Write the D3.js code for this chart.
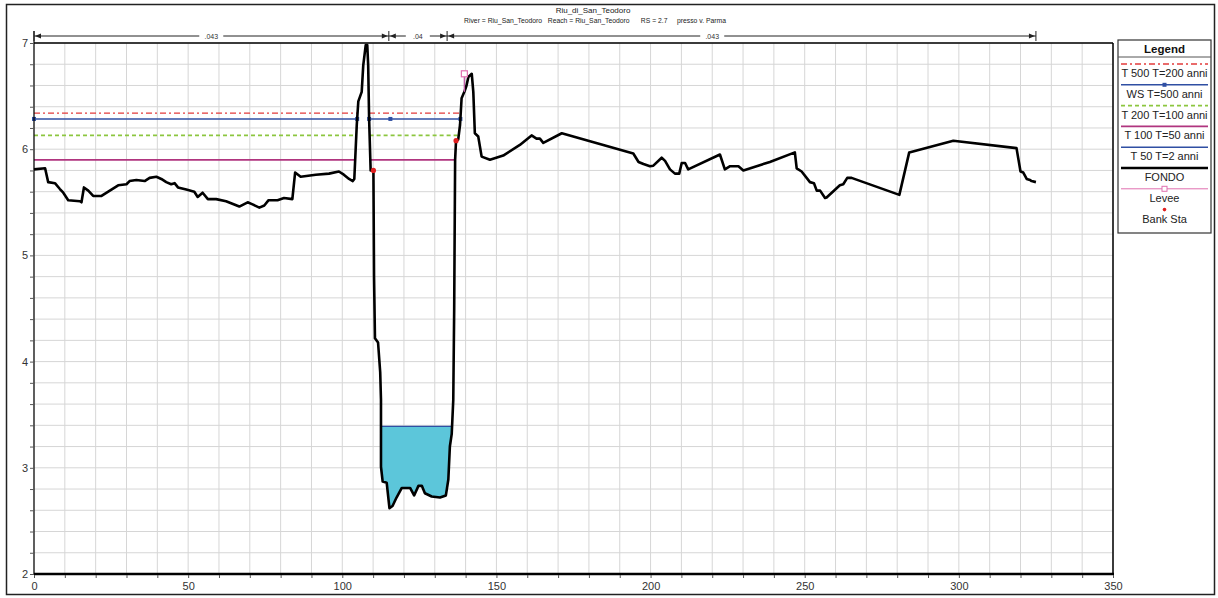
<!DOCTYPE html>
<html>
<head>
<meta charset="utf-8">
<script src="https://cdn.jsdelivr.net/npm/d3@7"></script>
<style>
  html, body { margin: 0; padding: 0; background: #fff; }
  svg { display: block; font-family: "Liberation Sans", Arial, sans-serif; }
</style>
</head>
<body>
<svg id="chart" width="1218" height="598"></svg>
<script>
// Cross-section profile: station (m) and bed elevation (m)
const groundStation = [
  0, 3.6, 4.6, 6.8, 8.4, 9.5, 11.1, 14.9, 15.4, 16.2, 17.6, 19.2, 21.9, 24.6, 27.3, 30.0,
  31.0, 33.2, 35.9, 37.5, 39.7, 41.3, 42.9, 44.5, 45.6, 46.7, 49.4, 52.0, 53.1, 54.7, 56.4,
  59.1, 62.3, 66.6, 69.3, 70.9, 73.1, 74.7, 76.1, 79.0, 81.1, 83.8, 84.7, 86.5, 91.4, 95.7,
  98.9, 100.5, 102.2, 103.4, 103.9, 104.7, 105.2, 106.3, 106.8, 107.6, 108.1, 108.4, 108.7,
  109.2, 110.1, 110.3, 110.6, 111.6, 112.3, 112.55, 112.55, 113.1, 114.4, 115.3, 116.3,
  117.6, 119.3, 122.0, 123.3, 124.7, 125.8, 126.8, 129.0, 131.7, 133.6, 134.4, 134.9, 135.5,
  136.0, 136.3, 136.6, 136.9, 137.6, 138.2, 138.7, 139.6, 140.3, 140.9, 142.0, 142.5, 143.0,
  144.1, 145.2, 147.9, 152.2, 157.6, 161.4, 163.0, 164.1, 165.2, 171.2, 194.4, 196.1, 197.7,
  199.8, 200.9, 203.6, 204.7, 206.3, 207.9, 209.3, 210.1, 211.2, 212.2, 222.5, 224.1, 225.8,
  228.5, 230.1, 238.7, 246.8, 247.4, 249.0, 251.7, 253.0, 253.9, 255.0, 256.6, 257.1, 261.4,
  262.5, 263.8, 265.2, 280.7, 283.9, 298.2, 318.7, 320.0, 320.9, 322.0, 323.1, 323.6, 325.0
];
const groundElev = [
  5.81, 5.82, 5.69, 5.68, 5.625, 5.59, 5.52, 5.51, 5.50, 5.64, 5.61, 5.56, 5.56, 5.61, 5.66, 5.67,
  5.70, 5.71, 5.70, 5.73, 5.74, 5.72, 5.69, 5.67, 5.68, 5.64, 5.62, 5.60, 5.55, 5.59, 5.53,
  5.53, 5.51, 5.46, 5.50, 5.48, 5.45, 5.47, 5.52, 5.52, 5.54, 5.53, 5.78, 5.74, 5.76, 5.77,
  5.79, 5.76, 5.72, 5.70, 5.72, 6.23, 6.45, 6.54, 6.79, 6.98, 6.98, 6.79, 6.29,
  5.80, 5.80, 4.80, 4.22, 4.18, 3.90, 3.64, 3.01, 2.87, 2.86, 2.62, 2.64,
  2.72, 2.81, 2.81, 2.74, 2.83, 2.83, 2.76, 2.73, 2.72, 2.74, 2.89, 3.20, 3.32,
  3.64, 4.50, 5.90, 6.08, 6.09, 6.23, 6.48, 6.54, 6.60, 6.68, 6.71, 6.54, 6.15,
  6.12, 5.93, 5.90, 5.94, 6.04, 6.13, 6.10, 6.10, 6.06, 6.15, 5.96, 5.88, 5.86,
  5.84, 5.845, 5.92, 5.89, 5.81, 5.77, 5.77, 5.87, 5.87, 5.81, 5.95, 5.81, 5.84,
  5.84, 5.80, 5.88, 5.97, 5.82, 5.79, 5.69, 5.68, 5.61, 5.61, 5.54, 5.545, 5.66,
  5.67, 5.73, 5.73, 5.57, 5.97, 6.08, 6.01, 5.79, 5.78, 5.72, 5.71, 5.70, 5.69
];

// Water surface profiles (elevation, m)
const profileNames = ["T 500 T=200 anni", "WS T=500 anni", "T 200 T=100 anni", "T 100 T=50 anni", "T 50 T=2 anni"];
const profileElev = [6.34, 6.285, 6.13, 5.90, 3.39];
const wsExtraMarkerStation = [115.6];

// Bank stations and levee
const bankStation = [110.1, 136.9];
const bankElev = [5.80, 6.08];
const leveeStation = [139.6];
const leveeElev = [6.71];

// Manning's n regions
const nBreakStation = [0, 115.1, 134.0, 325.0];
const nValues = [".043", ".04", ".043"];
const nLabelStation = [57.5, 124.5, 220];

// Axes
const xTicks = [0, 50, 100, 150, 200, 250, 300, 350];
const yTicks = [2, 3, 4, 5, 6, 7];

const titleText = "Riu_di_San_Teodoro";
const subtitleText = "River = Riu_San_Teodoro   Reach = Riu_San_Teodoro      RS = 2.7     presso v. Parma";

const svg = d3.select("#chart");
const W = 1218, H = 598;
const plot = { left: 34, right: 1113, top: 43, bottom: 574 };

const x = d3.scaleLinear().domain([0, 350]).range([plot.left, plot.right]);
const y = d3.scaleLinear().domain([2, 7]).range([plot.bottom, plot.top]);

// Outer frame
svg.append("rect").attr("x", 6.5).attr("y", 4.5).attr("width", W - 10).attr("height", H - 8)
  .attr("fill", "none").attr("stroke", "#222").attr("stroke-width", 1.5);

// Grid
const gridX = d3.range(0, 351, 10);
const gridY = d3.range(2, 7.001, 0.2);
svg.append("g").selectAll("line").data(gridX).join("line")
  .attr("x1", d => x(d)).attr("x2", d => x(d))
  .attr("y1", plot.top).attr("y2", plot.bottom)
  .attr("stroke", "#d6d6d6").attr("stroke-width", 1);
svg.append("g").selectAll("line").data(gridY).join("line")
  .attr("x1", plot.left).attr("x2", plot.right)
  .attr("y1", d => y(d)).attr("y2", d => y(d))
  .attr("stroke", "#d6d6d6").attr("stroke-width", 1);

// Profile helpers
const ground = groundStation.map((s, i) => [s, groundElev[i]]);
const groundAt = s => {
  for (let i = 1; i < ground.length; i++) {
    const [s0, z0] = ground[i - 1], [s1, z1] = ground[i];
    if (s >= s0 && s <= s1) return s1 === s0 ? z1 : z0 + (z1 - z0) * (s - s0) / (s1 - s0);
  }
  return ground[ground.length - 1][1];
};

// Wetted segments of a level within the levee-bounded section
function wetSegments(level, xmax) {
  const segs = [];
  let cur = null;
  for (let i = 0; i < ground.length; i++) {
    const [s, z] = ground[i];
    if (s > xmax) break;
    if (z < level) {
      if (!cur) {
        if (i === 0) cur = { start: s, pts: [] };
        else {
          const [s0, z0] = ground[i - 1];
          const t = (level - z0) / (z - z0);
          cur = { start: s0 + t * (s - s0), pts: [] };
        }
      }
      cur.pts.push([s, z]);
    } else if (cur) {
      const [s0, z0] = ground[i - 1];
      const t = (level - z0) / (z - z0);
      cur.end = s0 + t * (s - s0);
      segs.push(cur);
      cur = null;
    }
  }
  if (cur) { cur.end = cur.pts[cur.pts.length - 1][0]; segs.push(cur); }
  return segs;
}

const line = d3.line().x(d => x(d[0])).y(d => y(d[1]));

// Lowest profile: filled water body
const fillLevel = profileElev[4];
wetSegments(fillLevel, leveeStation[0]).forEach(seg => {
  const poly = [[seg.start, fillLevel], ...seg.pts, [seg.end, fillLevel]];
  svg.append("path").attr("d", line(poly) + "Z").attr("fill", "#5cc6da").attr("stroke", "none");
});

const profileStyle = [
  { color: "#e23b3b", width: 1.4, dash: "6,3,2,3" },
  { color: "#2f4fa3", width: 1.4, dash: null },
  { color: "#8cc63f", width: 1.6, dash: "4,3" },
  { color: "#b0357f", width: 1.8, dash: null },
  { color: "#2f4fa3", width: 1.4, dash: null }
];

profileElev.forEach((lev, k) => {
  const st = profileStyle[k];
  const segs = wetSegments(lev, leveeStation[0]);
  segs.forEach(seg => {
    svg.append("line")
      .attr("x1", x(seg.start)).attr("x2", x(seg.end))
      .attr("y1", y(lev)).attr("y2", y(lev))
      .attr("stroke", st.color).attr("stroke-width", st.width)
      .attr("stroke-dasharray", st.dash);
  });
  if (k === 1) {
    const marks = [];
    segs.forEach(seg => { marks.push(seg.start, seg.end); });
    wsExtraMarkerStation.forEach(s => marks.push(s));
    svg.append("g").selectAll("rect").data(marks).join("rect")
      .attr("x", d => x(d) - 2).attr("y", y(lev) - 2)
      .attr("width", 4).attr("height", 4).attr("fill", st.color);
  }
});

// Ground
svg.append("path").attr("d", line(ground))
  .attr("fill", "none").attr("stroke", "#000").attr("stroke-width", 2.6)
  .attr("stroke-linejoin", "round");

// Levee: stem from the bed up to the crest marker
leveeStation.forEach((s, i) => {
  svg.append("line").attr("x1", x(s)).attr("x2", x(s))
    .attr("y1", y(groundAt(s))).attr("y2", y(leveeElev[i]))
    .attr("stroke", "#c060a8").attr("stroke-width", 1.4);
});
svg.append("g").selectAll("rect").data(leveeStation).join("rect")
  .attr("x", d => x(d) - 3).attr("y", (d, i) => y(leveeElev[i]) - 3)
  .attr("width", 6).attr("height", 6)
  .attr("fill", "#fff").attr("stroke", "#e070b0").attr("stroke-width", 1.2);

// Bank stations
svg.append("g").selectAll("circle").data(bankStation).join("circle")
  .attr("cx", d => x(d)).attr("cy", (d, i) => y(bankElev[i])).attr("r", 2.6)
  .attr("fill", "#e02020");

// Plot border
svg.append("line").attr("x1", plot.left).attr("x2", plot.right).attr("y1", plot.top).attr("y2", plot.top)
  .attr("stroke", "#000").attr("stroke-width", 1.5);
svg.append("line").attr("x1", plot.right).attr("x2", plot.right).attr("y1", plot.top).attr("y2", plot.bottom)
  .attr("stroke", "#000").attr("stroke-width", 1.5);
svg.append("line").attr("x1", plot.left).attr("x2", plot.left).attr("y1", 31).attr("y2", plot.bottom)
  .attr("stroke", "#000").attr("stroke-width", 1.2);
svg.append("line").attr("x1", plot.left).attr("x2", plot.right + 1).attr("y1", plot.bottom).attr("y2", plot.bottom)
  .attr("stroke", "#000").attr("stroke-width", 2.6);

// Axes
const xAxis = d3.axisBottom(x).tickValues(d3.range(0, 351, 10)).tickSize(3)
  .tickFormat(d => xTicks.includes(d) ? d : "");
const gx = svg.append("g").attr("transform", `translate(0,${plot.bottom + 1})`).call(xAxis);
gx.select(".domain").remove();
gx.selectAll("line").attr("stroke", "#555");
gx.selectAll("text").attr("font-size", 11).attr("fill", "#333").attr("dy", "0.85em")
  .attr("font-family", "'Liberation Sans', Arial, sans-serif");

const yAxis = d3.axisLeft(y).tickValues(gridY).tickSize(4)
  .tickFormat(d => yTicks.some(t => Math.abs(t - d) < 1e-6) ? Math.round(d) : "");
const gy = svg.append("g").attr("transform", `translate(${plot.left},0)`).call(yAxis);
gy.select(".domain").remove();
gy.selectAll("line").attr("stroke", "#555");
gy.selectAll("text").attr("font-size", 11).attr("fill", "#333").attr("x", -6)
  .attr("font-family", "'Liberation Sans', Arial, sans-serif");

// Manning's n bar
const nY = 36;
svg.append("line").attr("x1", x(nBreakStation[0])).attr("x2", x(nBreakStation[nBreakStation.length - 1]))
  .attr("y1", nY).attr("y2", nY).attr("stroke", "#222").attr("stroke-width", 1);
nBreakStation.forEach(s => {
  svg.append("line").attr("x1", x(s)).attr("x2", x(s)).attr("y1", nY - 5).attr("y2", nY + 5)
    .attr("stroke", "#222").attr("stroke-width", 1);
});
for (let i = 0; i < nValues.length; i++) {
  const a = x(nBreakStation[i]), b = x(nBreakStation[i + 1]);
  svg.append("path").attr("d", `M${a + 1},${nY} l6,-2.5 l0,5 Z`).attr("fill", "#222");
  svg.append("path").attr("d", `M${b - 1},${nY} l-6,-2.5 l0,5 Z`).attr("fill", "#222");
  const lx = x(nLabelStation[i]);
  svg.append("rect").attr("x", lx - 12).attr("y", nY - 4).attr("width", 24).attr("height", 8).attr("fill", "#fff");
  svg.append("text").attr("x", lx).attr("y", nY + 2.5).attr("text-anchor", "middle")
    .attr("font-size", 7).attr("fill", "#333").text(nValues[i]);
}

// Titles
svg.append("text").attr("x", 593).attr("y", 13).attr("text-anchor", "middle")
  .attr("font-size", 8).attr("fill", "#222").text(titleText);
svg.append("text").attr("x", 595).attr("y", 23).attr("text-anchor", "middle")
  .attr("font-size", 6.8).attr("fill", "#222").attr("xml:space", "preserve").style("white-space", "pre").text(subtitleText);

// Legend
const lg = svg.append("g");
const L = { x: 1118, y: 40, w: 93, h: 193 };
lg.append("rect").attr("x", L.x).attr("y", L.y).attr("width", L.w).attr("height", L.h)
  .attr("fill", "#fff").attr("stroke", "#333").attr("stroke-width", 1.2);
lg.append("text").attr("x", L.x + L.w / 2).attr("y", L.y + 13).attr("text-anchor", "middle")
  .attr("font-size", 11.5).attr("font-weight", "bold").attr("fill", "#111").text("Legend");
lg.append("line").attr("x1", L.x).attr("x2", L.x + L.w).attr("y1", L.y + 17).attr("y2", L.y + 17)
  .attr("stroke", "#555").attr("stroke-width", 1);

const legendItems = [
  { label: profileNames[0], kind: "line", st: profileStyle[0] },
  { label: profileNames[1], kind: "ws", st: profileStyle[1] },
  { label: profileNames[2], kind: "line", st: profileStyle[2] },
  { label: profileNames[3], kind: "line", st: profileStyle[3] },
  { label: profileNames[4], kind: "line", st: profileStyle[4] },
  { label: "FONDO", kind: "line", st: { color: "#000", width: 2.6, dash: null } },
  { label: "Levee", kind: "levee", st: { color: "#e070b0", width: 1, dash: null } },
  { label: "Bank Sta", kind: "bank", st: { color: "#e02020" } }
];
legendItems.forEach((it, i) => {
  const ly = L.y + 24 + i * 20.8;
  const x1 = L.x + 3, x2 = L.x + L.w - 3, cx = L.x + L.w / 2;
  if (it.kind === "line" || it.kind === "ws" || it.kind === "levee") {
    lg.append("line").attr("x1", x1).attr("x2", x2).attr("y1", ly).attr("y2", ly)
      .attr("stroke", it.st.color).attr("stroke-width", it.st.width).attr("stroke-dasharray", it.st.dash);
  }
  if (it.kind === "ws") {
    lg.append("rect").attr("x", cx - 2).attr("y", ly - 2).attr("width", 4).attr("height", 4).attr("fill", it.st.color);
  }
  if (it.kind === "levee") {
    lg.append("rect").attr("x", cx - 2.5).attr("y", ly - 2.5).attr("width", 5).attr("height", 5)
      .attr("fill", "#fff").attr("stroke", it.st.color);
  }
  if (it.kind === "bank") {
    lg.append("circle").attr("cx", cx).attr("cy", ly).attr("r", 1.8).attr("fill", it.st.color);
  }
  lg.append("text").attr("x", cx).attr("y", ly + 13).attr("text-anchor", "middle")
    .attr("font-size", 11).attr("fill", "#222").text(it.label);
});
</script>
</body>
</html>
